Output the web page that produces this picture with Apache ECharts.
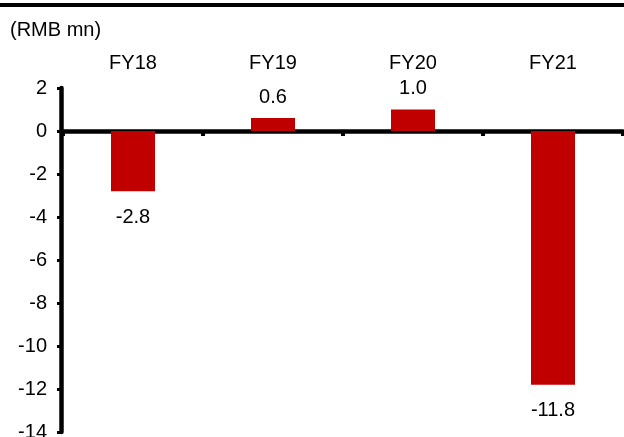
<!DOCTYPE html>
<html>
<head>
<meta charset="utf-8">
<script src="https://cdn.jsdelivr.net/npm/echarts@6/dist/echarts.min.js"></script>
<style>
  html, body { margin: 0; padding: 0; background: #fff; }
  #chart { width: 624px; height: 437px; }
</style>
</head>
<body>
<div id="chart"></div>
<script>
// Net profit by fiscal year (RMB mn)
const categories = ['FY18', 'FY19', 'FY20', 'FY21'];
const values = [-2.8, 0.6, 1.0, -11.8];
const yTicks = { min: -14, max: 2, interval: 2 };
const unitLabel = '(RMB mn)';

const FONT = 'Liberation Sans, Arial, sans-serif';
const FS = 20;
const RED = '#c00000';

const chart = echarts.init(document.getElementById('chart'), null, { renderer: 'canvas' });

const barData = values.map(v => ({
  value: v,
  label: {
    position: v >= 0 ? 'top' : 'bottom',
    distance: v >= 0 ? 11 : 16
  }
}));

chart.setOption({
  animation: false,
  backgroundColor: '#fff',
  grid: { left: 63, right: 1, top: 88, bottom: 5, containLabel: false, outerBoundsMode: 'none' },
  graphic: [
    { type: 'rect', left: 0, top: 3, shape: { width: 624, height: 4 }, style: { fill: '#000' } },
    { type: 'text', left: 10, top: 20, style: { text: unitLabel, font: FS + 'px ' + FONT, fill: '#000' } }
  ],
  xAxis: [
    {
      // zero baseline with boundary ticks
      type: 'category',
      data: categories,
      axisLine: { onZero: true, lineStyle: { color: '#000', width: 4.5 } },
      axisTick: { show: true, length: 5, lineStyle: { color: '#000', width: 4 } },
      axisLabel: { show: false },
      splitLine: { show: false }
    },
    {
      // category names along the top
      type: 'category',
      data: categories,
      position: 'top',
      axisLine: { show: false },
      axisTick: { show: false },
      axisLabel: { show: true, margin: 15, color: '#000', fontSize: FS, fontFamily: FONT },
      splitLine: { show: false }
    }
  ],
  yAxis: {
    type: 'value',
    min: yTicks.min,
    max: yTicks.max,
    interval: yTicks.interval,
    offset: 2,
    axisLine: { show: true, lineStyle: { color: '#000', width: 4.5 } },
    axisTick: { show: true, length: 4, lineStyle: { color: '#000', width: 3 } },
    axisLabel: { color: '#000', fontSize: FS, fontFamily: FONT, margin: 14 },
    splitLine: { show: false }
  },
  series: [{
    type: 'bar',
    xAxisIndex: 0,
    data: barData,
    barWidth: 44,
    itemStyle: { color: RED },
    label: {
      show: true,
      color: '#000',
      fontSize: FS,
      fontFamily: FONT,
      formatter: p => p.value.toFixed(1)
    }
  }]
});
</script>
</body>
</html>
